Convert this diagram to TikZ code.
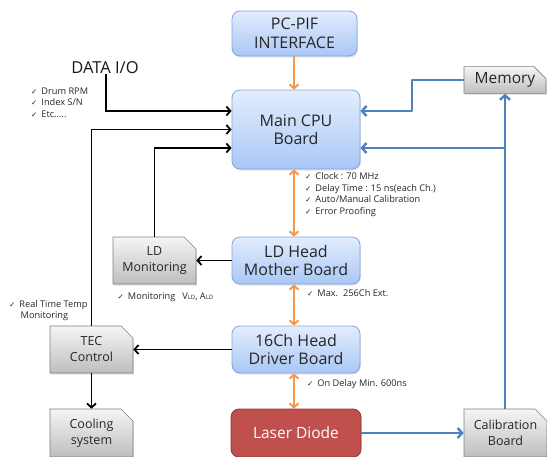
\documentclass[tikz,border=0pt]{standalone}
\usepackage{fontspec}
\setmainfont{Open Sans}
\newfontfamily\symf{DejaVu Sans}
\usetikzlibrary{arrows.meta,shapes.misc,shadows}

\definecolor{bluetop}{HTML}{E3EDFD}
\definecolor{bluebot}{HTML}{A9C7F5}
\definecolor{blueedge}{HTML}{7EA6E0}
\definecolor{graytop}{HTML}{F5F5F5}
\definecolor{graybot}{HTML}{BEBEBE}
\definecolor{grayedge}{HTML}{7F7F7F}
\definecolor{ldred}{HTML}{C0504D}
\definecolor{ldedge}{HTML}{8C3836}
\definecolor{orng}{HTML}{F79646}
\definecolor{lnblue}{HTML}{4F81BD}

\newcommand{\ck}{{\symf\fontsize{7.5}{8}\selectfont ✓}\hspace{4pt}}
\newcommand{\subld}{{\fontsize{6}{6}\selectfont LD}}

\tikzset{
  softshadow/.style={drop shadow={opacity=0.22, shadow xshift=0.8pt, shadow yshift=-1.6pt}},
  board/.style={rounded corners=8pt, draw=blueedge, line width=0.8pt,
    top color=bluetop, bottom color=bluebot, align=center, inner sep=0pt,
    font=\fontsize{16}{18.5}\selectfont, text=black!85, softshadow},
  unit/.style={chamfered rectangle, chamfered rectangle corners=north east,
    chamfered rectangle xsep=6pt, chamfered rectangle ysep=6pt,
    draw=grayedge, line width=0.6pt, top color=graytop, bottom color=graybot,
    align=center, inner sep=0pt, font=\fontsize{12.5}{16}\selectfont,
    text=black!85, softshadow},
  diode/.style={rounded corners=8pt, draw=ldedge, line width=0.8pt, fill=ldred,
    align=center, inner sep=0pt, font=\fontsize{15.5}{18.5}\selectfont,
    text=white, softshadow},
  note/.style={anchor=base west, inner sep=0pt, font=\fontsize{9.2}{10}\selectfont, text=black!85},
  blk/.style={draw=black, line width=1.8pt, -{Straight Barb[length=4pt,width=9pt]}},
  orarr/.style={draw=orng, line width=2pt, -{Straight Barb[length=4pt,width=9pt]}},
  ordbl/.style={draw=orng, line width=2pt, {Straight Barb[length=4pt,width=9pt]}-{Straight Barb[length=4pt,width=9pt]}},
  bline/.style={draw=lnblue, line width=2.4pt, line join=round},
  barr/.style={bline, -{Straight Barb[length=4.5pt,width=10pt]}},
}

\begin{document}
\begin{tikzpicture}[x=1pt, y=-1pt]
\useasboundingbox (0,0) rectangle (547,456);
\clip (0,0) rectangle (547,456);

% processing chain
\node[board, minimum width=125pt, minimum height=45pt] (pcpif) at (294.5,33.5) {PC-PIF\\INTERFACE};
\node[board, minimum width=128pt, minimum height=79pt] (cpu) at (296,129.5) {Main CPU\\Board};
\node[board, minimum width=128pt, minimum height=47pt] (ldhead) at (296,260.5) {LD Head\\Mother Board};
\node[board, minimum width=128pt, minimum height=47pt] (driver) at (296,349.5) {16Ch Head\\Driver Board};
\node[diode, minimum width=130pt, minimum height=48pt] (laser) at (296,433) {Laser Diode};

% auxiliary units
\node[unit, minimum width=83pt, minimum height=47pt] (ldmon) at (154.5,260.5) {LD\\Monitoring};
\node[unit, minimum width=83pt, minimum height=47pt] (tec) at (91.5,349.5) {TEC\\Control};
\node[unit, minimum width=83pt, minimum height=48pt] (cooling) at (91.5,433) {Cooling\\system};
\node[unit, minimum width=82pt, minimum height=26pt, font=\fontsize{15.5}{16}\selectfont] (memory) at (505,80) {Memory};
\node[unit, minimum width=83pt, minimum height=48pt] (calib) at (505.5,433) {Calibration\\Board};

% data input label
\node[inner sep=0pt, font=\fontsize{16.5}{18}\selectfont, text=black!90] (dio) at (105,68) {DATA I/O};

% orange bus links
\draw[orarr] (pcpif.south -| 294,0) -- (cpu.north -| 294,0);
\draw[ordbl] (cpu.south -| 294,0) -- (ldhead.north -| 294,0);
\draw[ordbl] (ldhead.south -| 294,0) -- (driver.north -| 294,0);
\draw[ordbl] (driver.south -| 294,0) -- (laser.north -| 294,0);

% black signal lines
\coordinate (cpuin1) at ([yshift=18.5pt]cpu.west);
\coordinate (cpuin3) at ([yshift=-18.5pt]cpu.west);
\draw[blk] (dio.south -| 106,0) |- (cpuin1);
\draw[blk] (tec.north) |- (cpu.west);
\draw[blk] (ldmon.north) |- (cpuin3);
\draw[blk] (ldhead.west) -- (ldmon.east);
\draw[blk] (driver.west) -- (tec.east);
\draw[blk] (tec.south) -- (cooling.north);

% blue calibration / memory lines
\coordinate (cpur1) at ([yshift=18.5pt]cpu.east);
\coordinate (cpur3) at ([yshift=-18.5pt]cpu.east);
\coordinate (tap) at (memory.south |- cpur3);
\draw[barr] (memory.west) -- ++(-52pt,0) |- (cpur1);
\draw[barr] (calib.north -| memory.south) -- (memory.south);
\draw[barr] (tap) -- (cpur3);
\draw[barr] (laser.east) -- (calib.west);

% annotations
\node[note] (n1) at (31,94) {\ck Drum RPM};
\node[note] (n2) at (31,105.5) {\ck Index S/N};
\node[note] (n3) at (31,117) {\ck Etc.....};

\node[note] (c1) at (305,179.3) {\ck Clock : 70 MHz};
\node[note] (c2) at (305,191) {\ck Delay Time : 15 ns(each Ch.)};
\node[note] (c3) at (305,202.7) {\ck Auto/Manual Calibration};
\node[note] (c4) at (305,214.3) {\ck Error Proofing};

\node[note] (m1) at (117.5,299) {\ck Monitoring\hspace{7pt}V\subld, A\subld};
\node[note] (x1) at (307,296) {\ck Max.\hspace{5pt}256Ch Ext.};
\node[note] (t1) at (9,307) {\ck Real Time Temp};
\node[note] (t2) at (20.5,318.5) {Monitoring};
\node[note] (d1) at (307,386) {\ck On Delay Min. 600ns};
\end{tikzpicture}
\end{document}
